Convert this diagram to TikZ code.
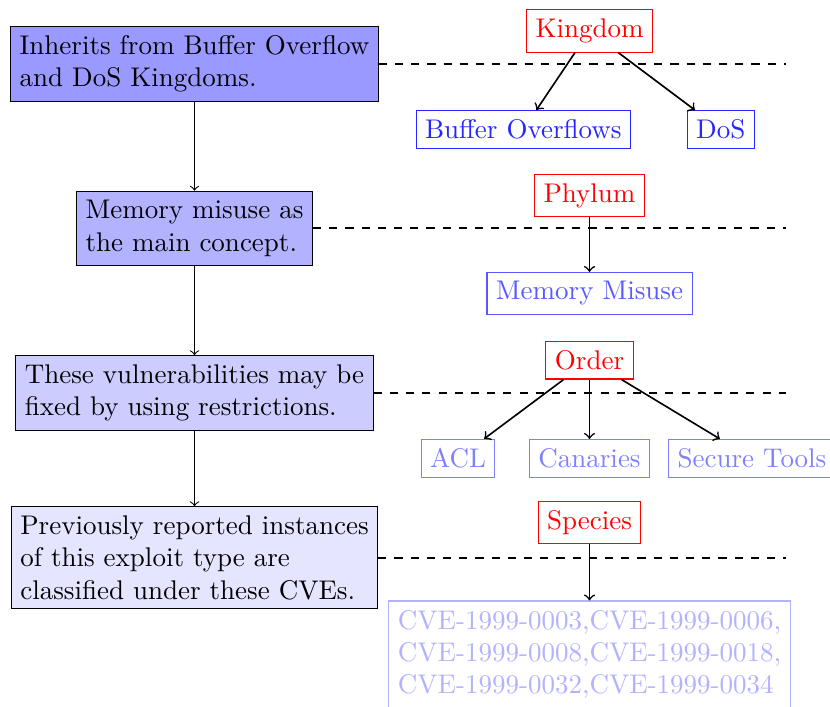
\documentclass[tikz,border=0pt]{standalone}
\usetikzlibrary{calc}
\begin{document}
\begin{tikzpicture}[x=0.37037pt,y=-0.37037pt,
  levelbox/.style={draw=black,align=left,inner sep=3.33pt},
  rankbox/.style={draw=red,text=red,inner sep=3.33pt},
  taxon/.style={draw=#1,text=#1,inner sep=3.33pt,align=left},
  link/.style={->},
  branch/.style={->,semithick},
  rule/.style={dashed,thick}]
\useasboundingbox (0,0) rectangle (830,706);

% explanations on the left
\node[levelbox,fill=blue!40] (b1) at (194.5,63.8) {Inherits from Buffer Overflow\\and DoS Kingdoms.};
\node[levelbox,fill=blue!30] (b2) at (194.5,228.2) {Memory misuse as\\the main concept.};
\node[levelbox,fill=blue!20] (b3) at (194.5,393) {These vulnerabilities may be\\fixed by using restrictions.};
\node[levelbox,fill=blue!10] (b4) at (194.5,557.8) {Previously reported instances\\of this exploit type are\\classified under these CVEs.};

\draw[link] (b1) -- (b2);
\draw[link] (b2) -- (b3);
\draw[link] (b3) -- (b4);

% separators
\coordinate (rim) at (786,0);
\draw[rule] (b1.east) -- (b1.east -| rim);
\draw[rule] (b2.east) -- (b2.east -| rim);
\draw[rule] (b3.east) -- (b3.east -| rim);
\draw[rule] (b4.east) -- (b4.east -| rim);

% taxonomy on the right
\node[rankbox] (kingdom) at (589.5,31) {Kingdom};
\node[taxon=blue!85] (bo) at (523.3,129.5) {Buffer Overflows};
\node[taxon=blue!85] (dos) at (720.8,129.5) {DoS};

\node[rankbox] (phylum) at (589.5,195.5) {Phylum};
\node[taxon=blue!65] (mm) at (589.5,293.5) {Memory Misuse};

\node[rankbox] (order) at (589.5,360.2) {Order};
\node[taxon=blue!50] (acl) at (458,458.3) {ACL};
\node[taxon=blue!50] (can) at (589.5,458.3) {Canaries};
\node[taxon=blue!50] (sec) at (752,458.3) {Secure Tools};

\node[rankbox] (species) at (589.5,522.5) {Species};
\node[taxon=blue!30] (cve) at (589.5,654.5) {CVE-1999-0003,CVE-1999-0006,\\CVE-1999-0008,CVE-1999-0018,\\CVE-1999-0032,CVE-1999-0034};

\draw[branch] (kingdom) -- (bo);
\draw[branch] (kingdom) -- (dos);
\draw[branch] (phylum) -- (mm);
\draw[branch] (order) -- (acl);
\draw[branch] (order) -- (can);
\draw[branch] (order) -- (sec);
\draw[branch] (species) -- (cve);
\end{tikzpicture}
\end{document}
